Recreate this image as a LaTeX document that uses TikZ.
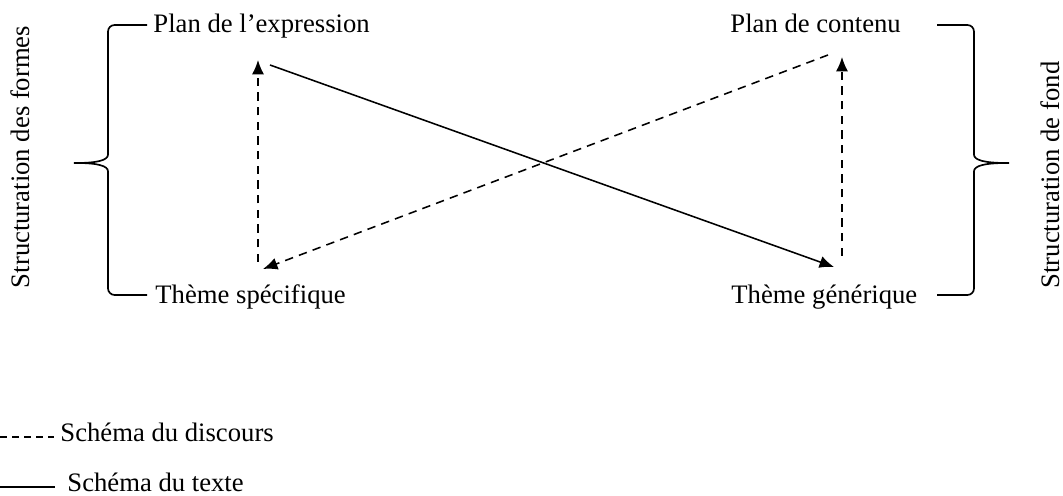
\documentclass[tikz,border=0pt]{standalone}
\usepackage{fontspec}
\setmainfont{Liberation Serif}
\usepackage{tikz}
\usetikzlibrary{arrows.meta,positioning,calc}

\begin{document}
\begin{tikzpicture}[
  x=0.45pt,y=-0.45pt,
  lbl/.style={font=\fontsize{12}{14}\selectfont,inner sep=0pt},
  accol/.style={line width=0.75pt,rounded corners=3pt},
  fleche/.style={line width=0.7pt,-{Latex[length=6.5pt,width=5.5pt]}},
  tirets/.style={fleche,dash pattern=on 3.8pt off 2.8pt},
  plein/.style={fleche}
]
  \useasboundingbox (0,0) rectangle (1063,496);
  % les quatre plans
  \node[lbl,anchor=base west] (pex) at (153,33)  {Plan de l’expression};
  \node[lbl,anchor=base west] (pco) at (730,33)  {Plan de contenu};
  \node[lbl,anchor=base west] (tsp) at (155,304) {Thème spécifique};
  \node[lbl,anchor=base west] (tge) at (731,304) {Thème générique};
  \node[lbl,rotate=90] (sfo) at (20,157)   {Structuration des formes};
  \node[lbl,rotate=90] (sfd) at (1050,175) {Structuration de fond};
  % accolades
  \draw[accol] (147,25) -- (108,25) -- (108,148) .. controls (108,160) and (98,163) .. (70,163)
               .. controls (98,163) and (108,166) .. (108,178) -- (108,295) -- (147,295);
  \draw[accol] (937,25) -- (974,25) -- (974,148) .. controls (974,160) and (984,163) .. (1013,163)
               .. controls (984,163) and (974,166) .. (974,178) -- (974,295) -- (937,295);
  % extremites des fleches
  \coordinate (a1) at (258,262);  \coordinate (b1) at (258,60);
  \coordinate (a2) at (842,256);  \coordinate (b2) at (842,57);
  \coordinate (a3) at (270,65);   \coordinate (b3) at (834,267);
  \coordinate (a4) at (828,55);   \coordinate (b4) at (263,269);
  \draw[tirets] (a1) -- (b1);
  \draw[tirets] (a2) -- (b2);
  \draw[tirets] (a4) -- (b4);
  \draw[plein]  (a3) -- (b3);
  % legende
  \coordinate (l1) at (0,437);  \coordinate (l2) at (0,487);
  \node[lbl,anchor=base west] (ldi) at (60,442) {Schéma du discours};
  \node[lbl,anchor=base west] (lte) at (67,492) {Schéma du texte};
  \draw[line width=0.5pt,dash pattern=on 3pt off 2.4pt] (l1) -- ($(ldi.west |- l1)+(-6,0)$);
  \draw[line width=0.7pt] (l2) -- ($(lte.west |- l2)+(-12,0)$);
\end{tikzpicture}
\end{document}
